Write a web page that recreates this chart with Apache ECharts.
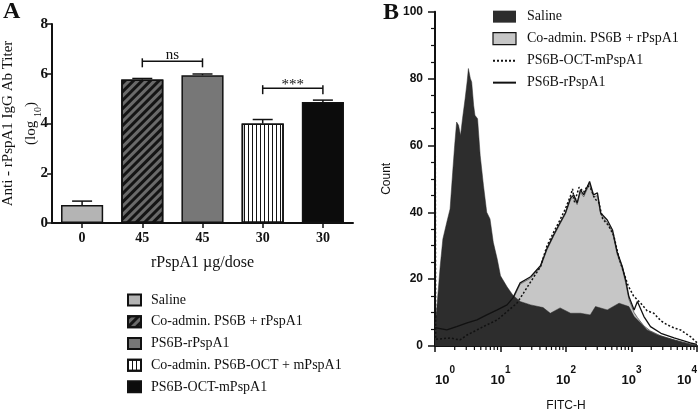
<!DOCTYPE html>
<html><head><meta charset="utf-8">
<script src="https://cdn.jsdelivr.net/npm/echarts@6/dist/echarts.min.js"></script>
<style>html,body{margin:0;padding:0;background:#fff}#c{width:700px;height:410px}</style>
</head><body><div id="c"></div>
<script>
// ---------- Panel A data ----------
const doseLabels = ['0', '45', '45', '30', '30'];
const groupNames = ['Saline', 'Co-admin. PS6B + rPspA1', 'PS6B-rPspA1', 'Co-admin. PS6B-OCT + mPspA1', 'PS6B-OCT-mPspA1'];
const titerMean = [0.72, 5.77, 5.94, 4.00, 4.86];
const titerUpper = [0.88, 5.81, 5.99, 4.16, 4.94];
const sigPairs = [[1, 2, 6.5], [3, 4, 5.42]];
const sigLabels = ['ns', '***'];
const yTicksA = [0, 2, 4, 6, 8];

// ---------- Panel B data (x = log10 FITC-H, y = count) ----------
const histNames = ['Saline', 'Co-admin. PS6B + rPspA1', 'PS6B-OCT-mPspA1', 'PS6B-rPspA1'];
const salineHist = [[0.00,6],[0.03,12],[0.08,24],[0.12,32],[0.18,37],[0.23,41],[0.27,52],[0.30,60],[0.33,67],[0.36,66],[0.39,63],[0.42,68],[0.46,74],[0.49,79],[0.51,83],[0.54,80],[0.56,79],[0.59,72],[0.61,69],[0.65,68],[0.69,57],[0.74,48],[0.79,40],[0.84,38],[0.89,31],[0.95,26],[1.00,21],[1.10,17.7],[1.19,15.2],[1.30,13.3],[1.46,12.3],[1.65,11.5],[1.76,9.8],[1.91,11.4],[2.07,9.8],[2.22,9.8],[2.37,9.3],[2.45,11.8],[2.63,10.8],[2.81,12.8],[2.96,11.8],[3.04,8.8],[3.14,6.9],[3.24,4.8],[3.40,3.3],[3.55,2.4],[3.75,1.3],[3.90,0.5],[4.00,0]];
const coadminHist = [[0.00,5],[0.03,5.2],[0.18,4.8],[0.33,5.6],[0.49,6.7],[0.64,7.6],[0.79,9.0],[0.95,10.5],[1.10,12.0],[1.19,14.0],[1.30,18.5],[1.46,20.3],[1.61,23.5],[1.71,28.8],[1.81,32.8],[1.89,35.8],[1.99,39.4],[2.07,43.8],[2.12,44.6],[2.17,42.3],[2.22,46.0],[2.27,44.6],[2.36,48.5],[2.42,44.6],[2.48,45.0],[2.53,39.3],[2.63,37.0],[2.71,34.0],[2.78,27.5],[2.86,23.0],[2.91,19.0],[2.96,14.0],[3.04,10.0],[3.09,8.5],[3.19,6.0],[3.29,4.5],[3.45,3.0],[3.65,1.8],[3.90,0.6],[4.00,0.3]];
const octHist = [[0.00,100],[0.01,2],[0.03,1.8],[0.23,2.4],[0.38,1.8],[0.49,3.3],[0.64,4.8],[0.79,6.3],[0.95,7.8],[1.10,10.3],[1.25,12.8],[1.35,15.8],[1.46,19.2],[1.61,23.7],[1.71,30],[1.81,34],[1.89,37],[1.99,41],[2.07,45],[2.10,47],[2.13,43],[2.20,47.5],[2.27,46],[2.33,48],[2.38,47],[2.44,44],[2.50,43],[2.56,38],[2.65,36],[2.73,33],[2.80,27],[2.88,22],[2.95,18],[3.03,15],[3.14,12.8],[3.24,10.5],[3.34,9.8],[3.45,7.5],[3.55,6.3],[3.65,5.4],[3.75,4.8],[3.90,2.8],[3.97,1.5],[4.00,1]];
const rpspHist = [[0.00,5.5],[0.03,5.3],[0.18,4.8],[0.33,5.8],[0.49,6.9],[0.64,7.8],[0.79,9.3],[0.95,10.8],[1.10,12.3],[1.19,14.4],[1.30,18.9],[1.46,20.7],[1.61,24.0],[1.71,29.2],[1.81,33.2],[1.89,36.2],[1.99,39.8],[2.07,44.3],[2.12,45.2],[2.17,42.8],[2.22,46.7],[2.27,45.2],[2.36,49.2],[2.42,45.2],[2.48,45.8],[2.53,39.8],[2.63,37.7],[2.71,34.7],[2.78,28.2],[2.86,23.7],[2.91,19.8],[2.96,14.8],[3.04,10.8],[3.09,13.3],[3.19,8.8],[3.29,5.8],[3.45,3.8],[3.65,2.4],[3.90,0.9],[4.00,0.5]];
const xDecadesB = [0, 1, 2, 3, 4];
const yTicksB = [0, 20, 40, 60, 80, 100];

// ---------- build ----------
const serif = 'Liberation Serif';
const sans = 'Liberation Sans';
const barColors = ['#b4b4b4', '#6a6a6a', '#777777', '#ffffff', '#0c0c0c'];
const barDecals = [null,
  {symbol: 'rect', color: '#141414', dashArrayX: [1, 0], dashArrayY: [3, 3], rotation: -Math.PI / 4, symbolSize: 1},
  null,
  {symbol: 'rect', color: '#141414', dashArrayX: [1, 2.6], dashArrayY: [1, 0], rotation: 0, symbolSize: 1},
  null];

const barSeries = groupNames.map((n, i) => ({
  name: 'a:' + n, type: 'bar', xAxisIndex: 0, yAxisIndex: 0,
  barWidth: '70%', barGap: '-100%',
  data: titerMean.map((v, j) => j === i ? v : '-'),
  itemStyle: Object.assign({color: barColors[i], borderColor: '#111', borderWidth: 1.5}, barDecals[i] ? {decal: barDecals[i]} : {}),
  z: 2, silent: true
}));

const errSeries = {
  type: 'custom', xAxisIndex: 0, yAxisIndex: 0, z: 5, silent: true,
  data: titerMean.map((v, i) => [i, v, titerUpper[i]]),
  renderItem: (p, api) => {
    const a = api.coord([api.value(0), api.value(1)]);
    const b = api.coord([api.value(0), api.value(2)]);
    const st = {stroke: '#111', lineWidth: 1.5};
    return {type: 'group', children: [
      {type: 'line', shape: {x1: a[0], y1: a[1], x2: b[0], y2: b[1]}, style: st},
      {type: 'line', shape: {x1: b[0] - 10, y1: b[1], x2: b[0] + 10, y2: b[1]}, style: st}
    ]};
  }
};

const sigSeries = {
  type: 'custom', xAxisIndex: 0, yAxisIndex: 0, z: 5, silent: true,
  data: sigPairs,
  renderItem: (p, api) => {
    const a = api.coord([api.value(0), api.value(2)]);
    const b = api.coord([api.value(1), api.value(2)]);
    const st = {stroke: '#111', lineWidth: 1.5};
    const lab = sigLabels[p.dataIndex];
    const off = lab === '***' ? 4 : 1;
    return {type: 'group', children: [
      {type: 'line', shape: {x1: a[0], y1: a[1], x2: b[0], y2: b[1]}, style: st},
      {type: 'line', shape: {x1: a[0], y1: a[1] - 3, x2: a[0], y2: a[1] + 6}, style: st},
      {type: 'line', shape: {x1: b[0], y1: b[1] - 3, x2: b[0], y2: b[1] + 6}, style: st},
      {type: 'text', style: {text: lab, x: (a[0] + b[0]) / 2, y: a[1] + off, align: 'center', verticalAlign: 'bottom', font: '15px ' + serif, fill: '#111'}}
    ]};
  }
};

const minorTicksB = [];
xDecadesB.slice(0, -1).forEach(d => { for (let k = 2; k <= 9; k++) minorTicksB.push([d + Math.log10(k), 0]); });
const minorSeries = {
  type: 'custom', xAxisIndex: 1, yAxisIndex: 1, z: 10, silent: true, clip: false,
  data: minorTicksB,
  renderItem: (p, api) => {
    const a = api.coord([api.value(0), 0]);
    return {type: 'line', shape: {x1: a[0], y1: a[1], x2: a[0], y2: a[1] + 4}, style: {stroke: '#111', lineWidth: 1.2}};
  }
};

const histSeries = [
  {name: 'b:' + histNames[1], data: coadminHist, z: 1, areaStyle: {color: '#c6c6c6', opacity: 1}, lineStyle: {color: '#555', width: 0.8}, itemStyle: {color: '#c6c6c6'}},
  {name: 'b:' + histNames[0], data: salineHist, z: 2, areaStyle: {color: '#2d2d2d', opacity: 1}, lineStyle: {color: '#2d2d2d', width: 0.5}, itemStyle: {color: '#2d2d2d'}},
  {name: 'b:' + histNames[2], data: octHist, z: 3, lineStyle: {color: '#111', width: 1.5, type: [2, 2]}, itemStyle: {color: '#111'}},
  {name: 'b:' + histNames[3], data: rpspHist, z: 4, lineStyle: {color: '#111', width: 1.3}, itemStyle: {color: '#111'}}
].map(s => Object.assign({type: 'line', xAxisIndex: 1, yAxisIndex: 1, symbol: 'none', silent: true, animation: false}, s));

const axisLine = {show: true, lineStyle: {color: '#111', width: 2}};

const option = {
  animation: false,
  backgroundColor: '#fff',
  graphic: [
    {type: 'text', left: 3, top: 0, style: {text: 'A', font: 'bold 24px ' + serif, fill: '#111'}},
    {type: 'text', left: 383, top: 1, style: {text: 'B', font: 'bold 24px ' + serif, fill: '#111'}}
  ],
  grid: [
    {left: 52, top: 24, width: 301, height: 199, outerBoundsMode: 'none', containLabel: false},
    {left: 435, top: 11.7, width: 262, height: 334.3, outerBoundsMode: 'none', containLabel: false}
  ],
  legend: [
    {data: groupNames.map(n => 'a:' + n), icon: 'rect', left: 127, top: 291.7, padding: 0, orient: 'vertical', itemWidth: 13, itemHeight: 11, itemGap: 5,
     formatter: n => n.slice(2), textStyle: {fontFamily: serif, fontSize: 14, lineHeight: 16.7, color: '#111', padding: [0, 0, 0, 5]}, selectedMode: false},
    {data: [
      {name: 'b:' + histNames[0], icon: 'rect', itemStyle: {color: '#2d2d2d'}},
      {name: 'b:' + histNames[1], icon: 'rect', itemStyle: {color: '#c6c6c6', borderColor: '#111', borderWidth: 1.2}},
      {name: 'b:' + histNames[2], itemStyle: {opacity: 0}},
      {name: 'b:' + histNames[3], itemStyle: {opacity: 0}}
    ], left: 492, top: 8.3, padding: 0, orient: 'vertical', itemWidth: 23, itemHeight: 12, itemGap: 5.3,
     formatter: n => n.slice(2), textStyle: {fontFamily: serif, fontSize: 14, lineHeight: 16.7, color: '#111', padding: [0, 0, 0, 6]}, selectedMode: false}
  ],
  xAxis: [
    {type: 'category', gridIndex: 0, data: doseLabels, axisLine: axisLine,
     axisTick: {show: true, alignWithLabel: true, length: 5, lineStyle: {color: '#111', width: 1.5}},
     axisLabel: {color: '#111', fontFamily: serif, fontSize: 14, fontWeight: 'bold', margin: 8},
     name: 'rPspA1 \u00b5g/dose', nameLocation: 'middle', nameGap: 32,
     nameTextStyle: {color: '#111', fontFamily: serif, fontSize: 16}},
    {type: 'value', gridIndex: 1, min: 0, max: 4, interval: 1, axisLine: axisLine, splitLine: {show: false},
     axisTick: {show: true, length: 6, lineStyle: {color: '#111', width: 1.5}},
     axisLabel: {color: '#111', margin: 19, alignMinLabel: 'left', alignMaxLabel: 'right',
       formatter: v => '{b|10}{s|' + v + '}',
       rich: {b: {fontFamily: sans, fontSize: 13, fontWeight: 'bold', lineHeight: 22, verticalAlign: 'bottom', color: '#111'},
              s: {fontFamily: sans, fontSize: 10, fontWeight: 'bold', lineHeight: 22, verticalAlign: 'top', color: '#111'}}},
     name: 'FITC-H', nameLocation: 'middle', nameGap: 54,
     nameTextStyle: {color: '#111', fontFamily: sans, fontSize: 12}}
  ],
  yAxis: [
    {type: 'value', gridIndex: 0, min: 0, max: 8, interval: 2, axisLine: axisLine, splitLine: {show: false},
     axisTick: {show: true, length: 5, lineStyle: {color: '#111', width: 1.5}},
     axisLabel: {color: '#111', fontFamily: serif, fontSize: 15, fontWeight: 'bold', margin: 4},
     name: 'Anti - rPspA1 IgG Ab Titer\n(log {sub|10})', nameLocation: 'middle', nameGap: 9, nameMoveOverlap: false,
     nameTextStyle: {color: '#111', fontFamily: serif, fontSize: 15, lineHeight: 23,
       rich: {sub: {fontFamily: serif, fontSize: 10, verticalAlign: 'bottom', lineHeight: 23}}}},
    {type: 'value', gridIndex: 1, min: 0, max: 100, interval: 20, axisLine: axisLine, splitLine: {show: false},
     axisTick: {show: true, length: 7, lineStyle: {color: '#111', width: 1.5}},
     minorTick: {show: true, splitNumber: 4, length: 4, lineStyle: {color: '#111', width: 1.2}},
     axisLabel: {color: '#111', fontFamily: sans, fontSize: 12, fontWeight: 'bold', margin: 12},
     name: 'Count', nameLocation: 'middle', nameGap: 42,
     nameTextStyle: {color: '#111', fontFamily: sans, fontSize: 12}}
  ],
  series: [...barSeries, errSeries, sigSeries, ...histSeries, minorSeries]
};

const chart = echarts.init(document.getElementById('c'), null, {renderer: 'canvas'});
chart.setOption(option);
</script>
</body></html>
